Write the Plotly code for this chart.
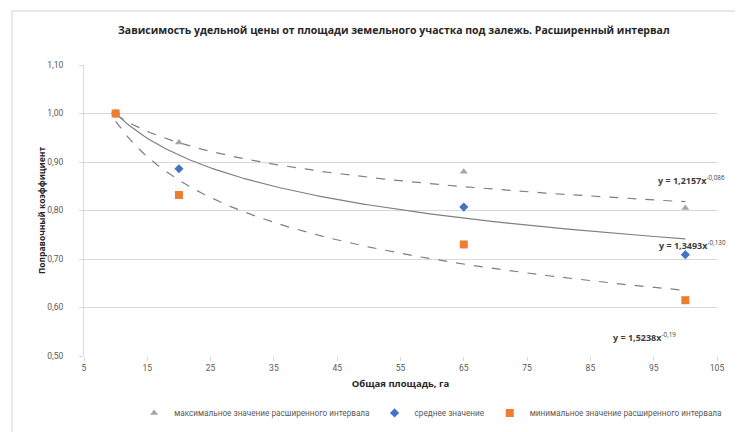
import numpy as np
import plotly.graph_objects as go

# ---- data ----
x_max = [10, 20, 65, 100]
y_max = [1.00, 0.94, 0.88, 0.805]
x_mean = [10, 20, 65, 100]
y_mean = [1.00, 0.886, 0.807, 0.709]
x_min = [10, 20, 65, 100]
y_min = [1.00, 0.832, 0.730, 0.615]

names = ["максимальное значение расширенного интервала",
         "среднее значение",
         "минимальное значение расширенного интервала"]

# power trendline coefficients (from chart labels)
trend_a = [1.2157, 1.3493, 1.5238]
trend_b = [-0.086, -0.130, -0.190]
trend_labels = ["<b>y = 1,2157x</b><sup>-0,086</sup>",
                "<b>y = 1,3493x</b><sup>-0,130</sup>",
                "<b>y = 1,5238x</b><sup>-0,19</sup>"]

x_ticks = list(range(5, 106, 10))
y_ticks = [0.5, 0.6, 0.7, 0.8, 0.9, 1.0, 1.1]

FONT = "Open Sans"
fig = go.Figure()

xs = np.linspace(10, 100, 200)
dashes = ["dash", "solid", "dash"]
for a, b, d in zip(trend_a, trend_b, dashes):
    fig.add_trace(go.Scatter(x=xs, y=a * xs ** b, mode="lines",
                             line=dict(color="#7f7f7f", width=1.2, dash=d),
                             showlegend=False, hoverinfo="skip"))

fig.add_trace(go.Scatter(x=x_max, y=y_max, mode="markers", name=names[0],
                         marker=dict(symbol="triangle-up", size=7, color="#a5a5a5")))
fig.add_trace(go.Scatter(x=x_mean, y=y_mean, mode="markers", name=names[1],
                         marker=dict(symbol="diamond", size=7, color="#4472c4")))
fig.add_trace(go.Scatter(x=x_min, y=y_min, mode="markers", name=names[2],
                         marker=dict(symbol="square", size=8, color="#ed7d31")))

annotations = []
label_x = [101.0, 101.2, 93.6]
label_y = [0.862, 0.728, 0.539]
for lx, ly, t in zip(label_x, label_y, trend_labels):
    annotations.append(dict(x=lx, y=ly, xref="x", yref="y", text=t, showarrow=False,
                            font=dict(family=FONT, size=9, color="#404040"),
                            xanchor="center", yanchor="middle"))

fig.update_layout(
    width=735, height=424,
    paper_bgcolor="white", plot_bgcolor="white",
    separators=", ",
    margin=dict(l=76, r=26, t=57, b=76, autoexpand=False),
    title=dict(text="<b>Зависимость удельной цены от площади земельного участка под залежь. Расширенный интервал</b>",
               x=0.525, xanchor="center", y=0.948, yanchor="middle",
               font=dict(family=FONT, size=10.5, color="#262626")),
    xaxis=dict(range=[5, 105], tickvals=x_ticks, showgrid=False, zeroline=False,
               showline=False, ticks="outside", ticklen=4, tickcolor="#d9d9d9",
               automargin=False,
               tickfont=dict(family="Roboto", size=8.5, color="#595959"),
               title=dict(text="<b>Общая площадь, га</b>", standoff=8,
                          font=dict(family=FONT, size=9.5, color="#262626"))),
    yaxis=dict(range=[0.5, 1.1], tickvals=y_ticks, tickformat=".2f",
               showgrid=True, gridcolor="#d9d9d9", gridwidth=1, zeroline=False,
               showline=True, linecolor="#d9d9d9", ticks="outside", ticklen=4,
               tickcolor="#d9d9d9", ticklabelstandoff=14, automargin=False,
               tickfont=dict(family="Roboto", size=8.5, color="#595959"),
               title=dict(text="<b>Поправочный коэффициент</b>", standoff=0,
                          font=dict(family=FONT, size=8.5, color="#262626"))),
    legend=dict(orientation="h", xref="container", yref="container",
                x=0.575, xanchor="center", y=0.045, yanchor="middle",
                font=dict(family="Roboto", size=8.2, color="#595959"),
                itemwidth=30, tracegroupgap=0),
    annotations=annotations,
    shapes=[
        dict(type="line", xref="paper", yref="paper", x0=-0.1137, x1=1.1, y0=1.1856, y1=1.1856,
             line=dict(color="#d0d0d0", width=1)),
        dict(type="line", xref="paper", yref="paper", x0=-0.1137, x1=-0.1137, y0=-0.3, y1=1.1856,
             line=dict(color="#d0d0d0", width=1)),
    ],
)

fig.write_html("out.html")
